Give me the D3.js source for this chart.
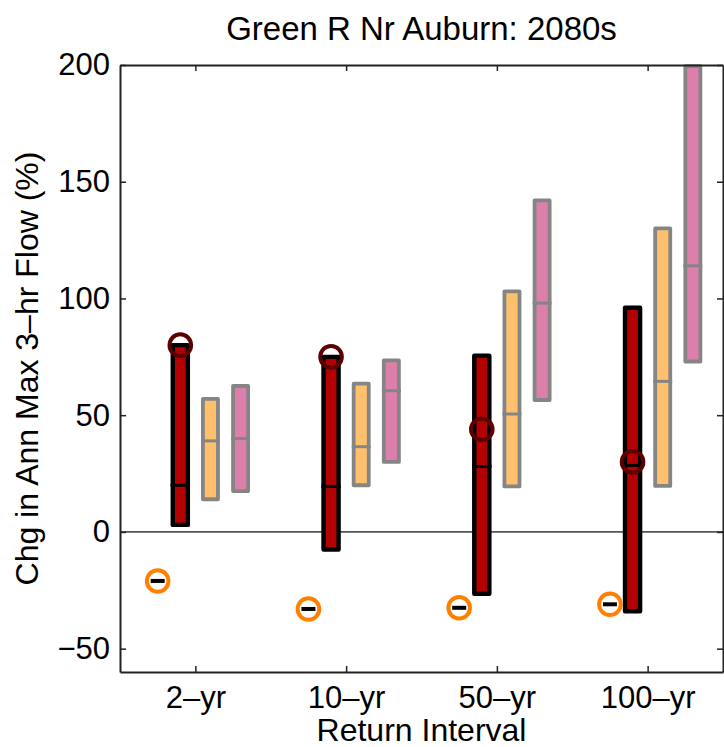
<!DOCTYPE html>
<html>
<head>
<meta charset="utf-8">
<script src="https://cdn.jsdelivr.net/npm/d3@7"></script>
<style>
  html, body { margin: 0; padding: 0; background: #fff; }
  svg { display: block; }
  text { font-family: "Liberation Sans", Arial, Helvetica, sans-serif; fill: #000; }
</style>
</head>
<body>
<svg id="chart" width="724" height="747"></svg>
<script>
// ---- data ----
const categories = ["2\u2013yr", "10\u2013yr", "50\u2013yr", "100\u2013yr"];
const yTicks = [-50, 0, 50, 100, 150, 200];

// dark red range bars (black outline)
const redLow  = [3, -7.5, -26.5, -34];
const redHigh = [80, 75, 75.5, 96];
const redMed  = [20, 19.5, 28, 28.5];
const redMark = [80, 75, 44, 30];        // dark maroon circles

// light orange range bars (grey outline)
const orangeLow  = [14, 20, 19.5, 19.7];
const orangeHigh = [57, 63.5, 103, 130];
const orangeMed  = [39, 36.5, 50.5, 64.5];

// pink range bars (grey outline)
const pinkLow  = [17.5, 30, 56.5, 73];
const pinkHigh = [62.5, 73.5, 142, 199.5];
const pinkMed  = [40, 60.5, 98, 114];

// orange circle markers (historical)
const histMark = [-21, -33, -32.5, -31];

(function () {
// ---- layout ----
const svg = d3.select("#chart");
const L = 120, R = 723, T = 65, B = 672;
const x = d3.scaleLinear().domain([0.5, 4.5]).range([L, R]);
const y = d3.scaleLinear().domain([-60, 200]).range([B, T]);
const pos = categories.map((c, i) => i + 1);

const g = svg.append("g");

// zero line
g.append("line")
  .attr("x1", L).attr("x2", R)
  .attr("y1", y(0)).attr("y2", y(0))
  .attr("stroke", "#555").attr("stroke-width", 1.6);

const barW = 0.1; // in x units (~15px)

function rangeBars(lo, hi, med, off, fill, stroke, sw) {
  const gg = g.append("g");
  gg.selectAll("rect").data(pos).join("rect")
    .attr("x", (p) => x(p + off - barW / 2))
    .attr("width", (p) => x(p + off + barW / 2) - x(p + off - barW / 2))
    .attr("y", (p, i) => y(hi[i]))
    .attr("height", (p, i) => y(lo[i]) - y(hi[i]))
    .attr("fill", fill)
    .attr("stroke", stroke)
    .attr("stroke-width", sw)
    .attr("stroke-linejoin", "round");
  gg.selectAll("line").data(pos).join("line")
    .attr("x1", (p) => x(p + off - barW / 2) - sw / 2)
    .attr("x2", (p) => x(p + off + barW / 2) + sw / 2)
    .attr("y1", (p, i) => y(med[i]))
    .attr("y2", (p, i) => y(med[i]))
    .attr("stroke", stroke)
    .attr("stroke-width", 3);
}

rangeBars(redLow, redHigh, redMed, -0.1, "#b30000", "#000", 4.4);
rangeBars(orangeLow, orangeHigh, orangeMed, 0.1, "#ffc06e", "#858585", 3.8);
rangeBars(pinkLow, pinkHigh, pinkMed, 0.3, "#dd7fab", "#858585", 3.8);

// dark maroon circles
g.append("g").selectAll("circle").data(pos).join("circle")
  .attr("cx", (p) => x(p - 0.1))
  .attr("cy", (p, i) => y(redMark[i]))
  .attr("r", 10.8)
  .attr("fill", "none")
  .attr("stroke", "#5c0000")
  .attr("stroke-width", 4);

// orange circles with black dash
const hg = g.append("g");
hg.selectAll("circle").data(pos).join("circle")
  .attr("cx", (p) => x(p - 0.25))
  .attr("cy", (p, i) => y(histMark[i]))
  .attr("r", 10.8)
  .attr("fill", "#fff")
  .attr("stroke", "#ff7f00")
  .attr("stroke-width", 4);
hg.selectAll("line").data(pos).join("line")
  .attr("x1", (p) => x(p - 0.25) - 7)
  .attr("x2", (p) => x(p - 0.25) + 7)
  .attr("y1", (p, i) => y(histMark[i]))
  .attr("y2", (p, i) => y(histMark[i]))
  .attr("stroke", "#000")
  .attr("stroke-width", 4);

// ---- axes ----
const axisColor = "#222";
const tickLen = 6;

const axB = svg.append("g").attr("transform", `translate(0,${B})`)
  .call(d3.axisBottom(x).tickValues(pos).tickFormat((d, i) => categories[i])
    .tickSizeInner(-tickLen).tickSizeOuter(0).tickPadding(14));
const axT = svg.append("g").attr("transform", `translate(0,${T})`)
  .call(d3.axisTop(x).tickValues(pos).tickFormat("")
    .tickSizeInner(-tickLen).tickSizeOuter(0));
const axL = svg.append("g").attr("transform", `translate(${L},0)`)
  .call(d3.axisLeft(y).tickValues(yTicks).tickFormat(d3.format("d"))
    .tickSizeInner(-tickLen).tickSizeOuter(0).tickPadding(10));
const axR = svg.append("g").attr("transform", `translate(${R},0)`)
  .call(d3.axisRight(y).tickValues(yTicks).tickFormat("")
    .tickSizeInner(-tickLen).tickSizeOuter(0));

[axB, axT, axL, axR].forEach((a) => {
  a.select(".domain").attr("stroke", axisColor).attr("stroke-width", 2);
  a.selectAll(".tick line").attr("stroke", axisColor).attr("stroke-width", 1.5);
  a.selectAll("text").style("font-family", '"Liberation Sans", Arial, sans-serif')
    .style("font-size", "31px").attr("fill", "#000");
});
axL.selectAll(".tick text").text((d) => d < 0 ? "\u2212" + Math.abs(d) : d);

// titles
svg.append("text")
  .attr("x", (L + R) / 2).attr("y", 40)
  .attr("text-anchor", "middle")
  .style("font-size", "33px")
  .text("Green R Nr Auburn: 2080s");

svg.append("text")
  .attr("x", (L + R) / 2).attr("y", 741)
  .attr("text-anchor", "middle")
  .style("font-size", "32px")
  .text("Return Interval");

svg.append("text")
  .attr("transform", `translate(38,${(T + B) / 2}) rotate(-90)`)
  .attr("text-anchor", "middle")
  .style("font-size", "32px")
  .text("Chg in Ann Max 3\u2013hr Flow (%)");
})();
</script>
</body>
</html>
